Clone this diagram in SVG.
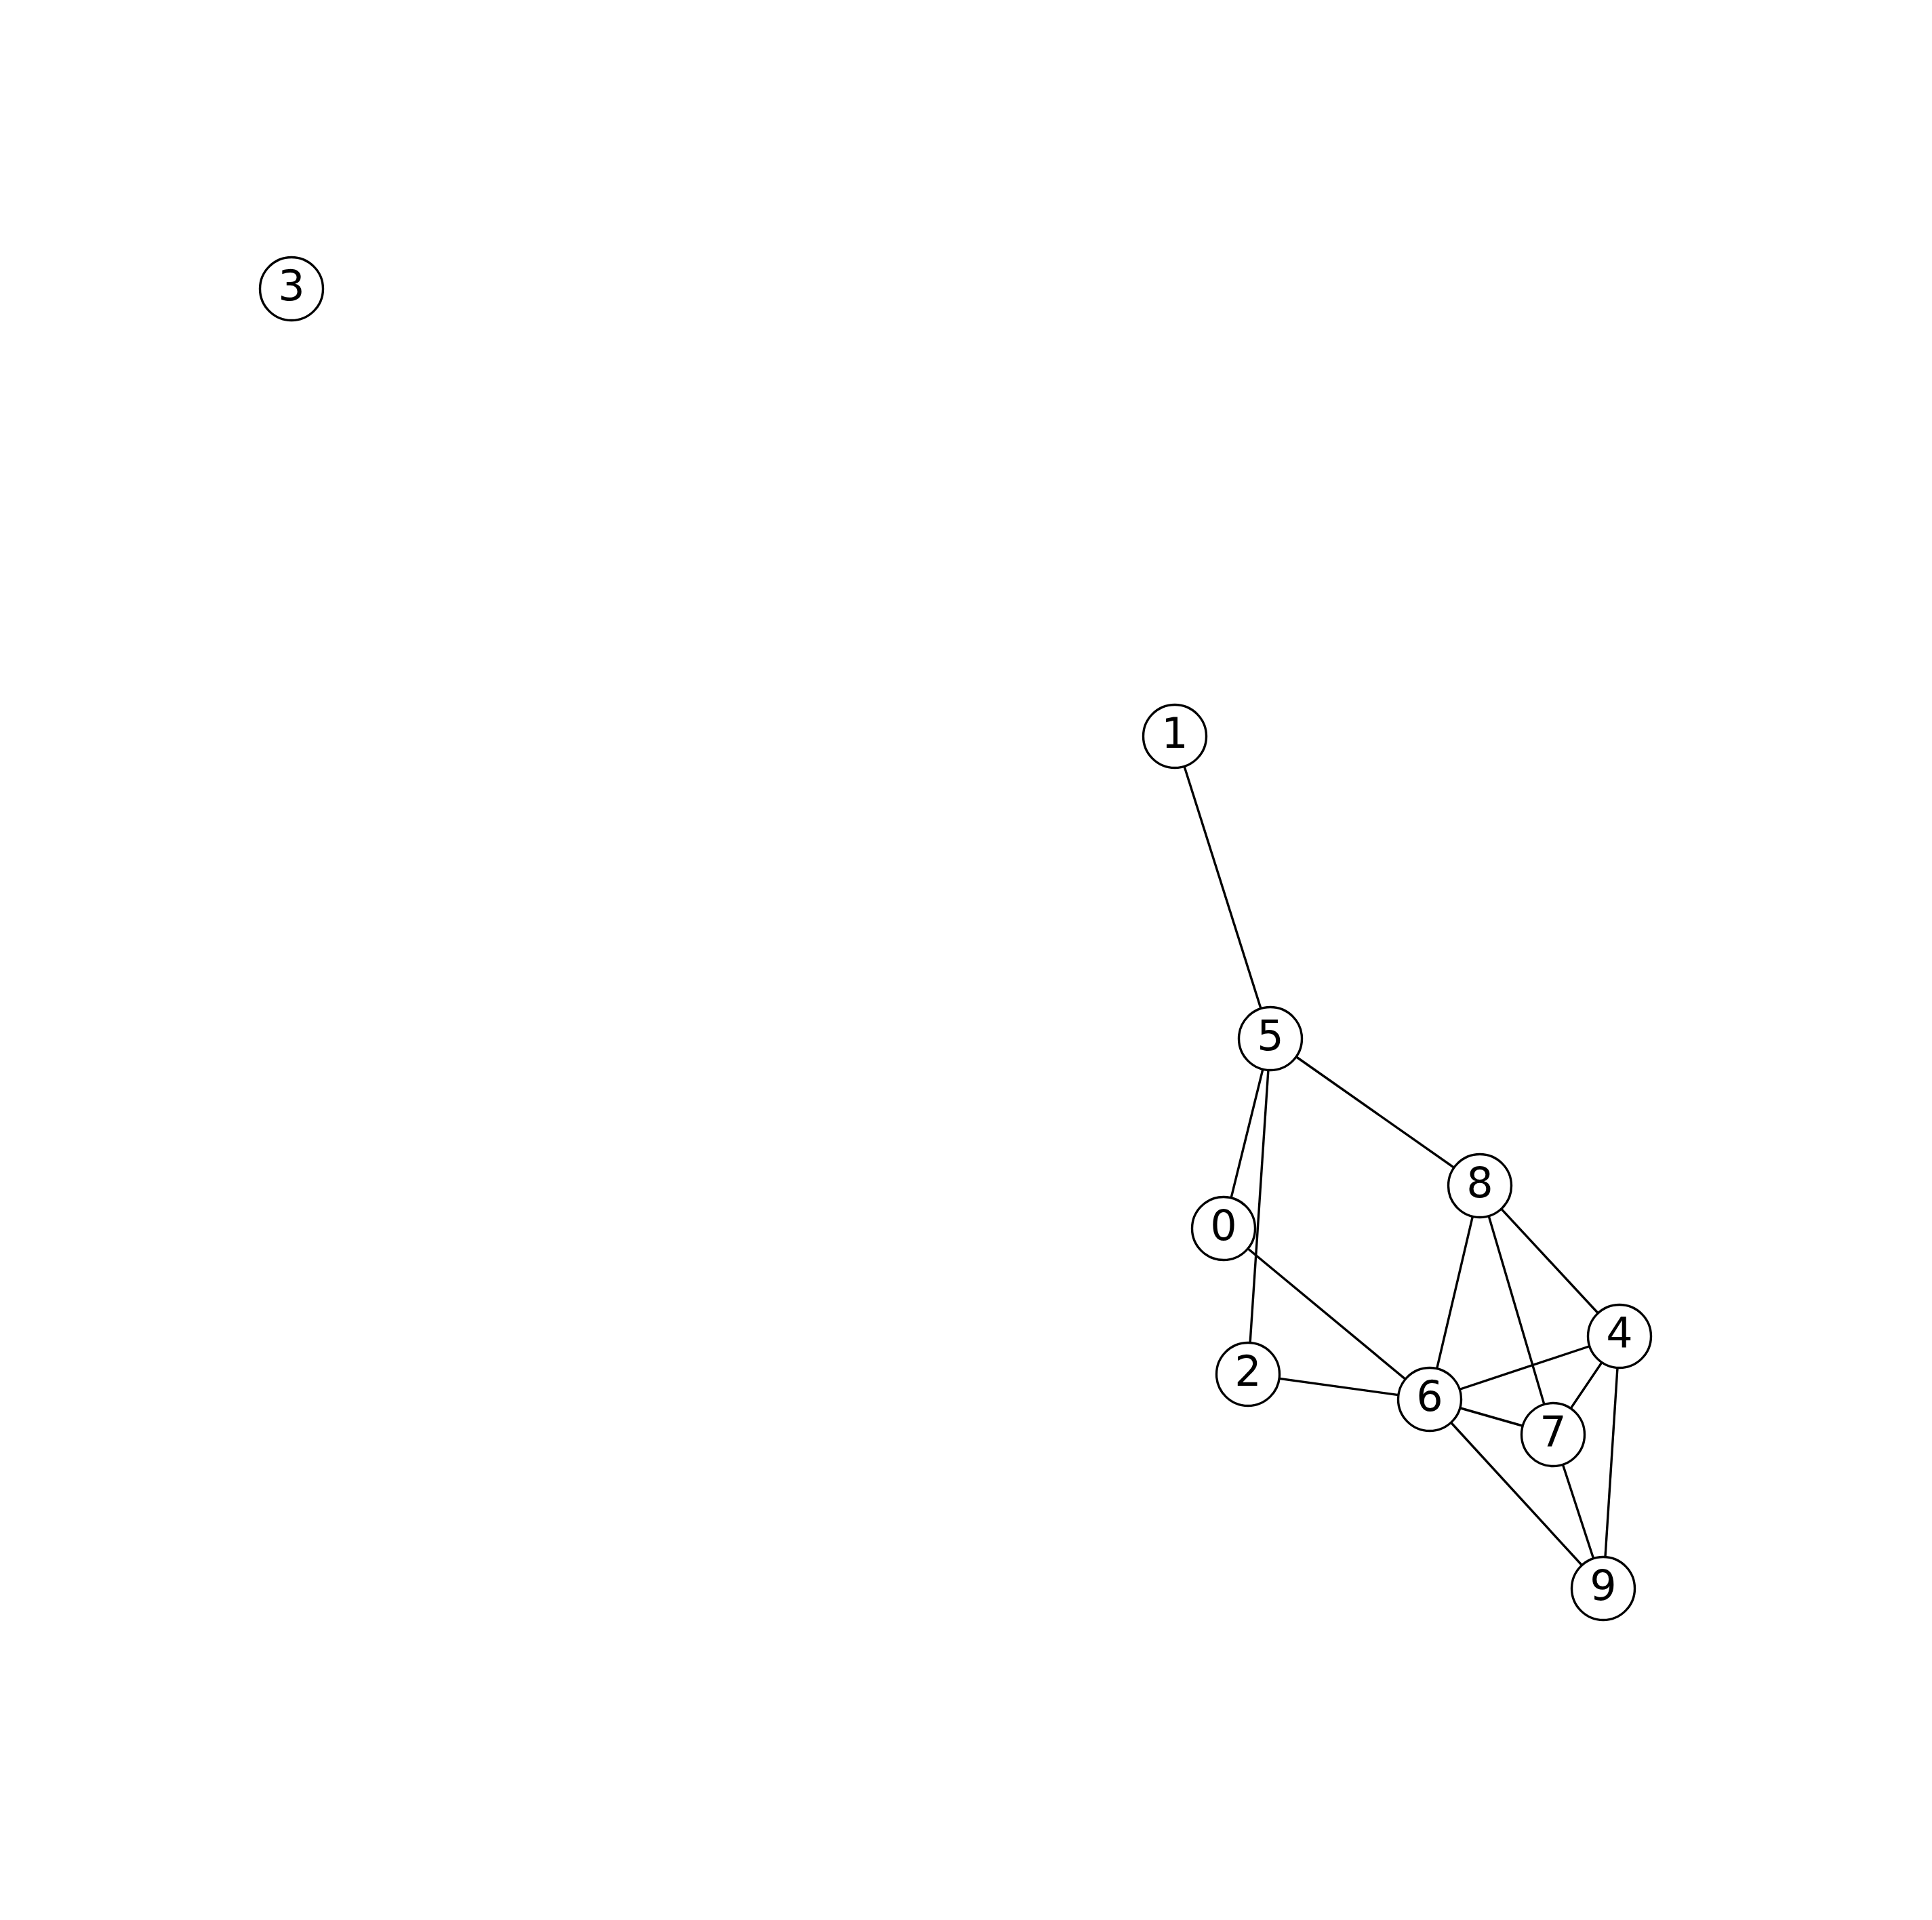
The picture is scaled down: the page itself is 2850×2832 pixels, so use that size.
<svg xmlns="http://www.w3.org/2000/svg" width="2850" height="2832" viewBox="0 0 2850 2832">
<style>
.e{stroke:#000;stroke-width:3.4;fill:none}
.n circle{fill:#fff;stroke:#000;stroke-width:3.4}
.n text{font-family:"DejaVu Sans",sans-serif;font-size:62px;text-anchor:middle;fill:#000}
</style>
<rect width="2850" height="2832" fill="#fff"/>
<g id="edges" class="e">
<line x1="1733" y1="1086" x2="1874" y2="1532"/>
<line x1="1874" y1="1532" x2="2183" y2="1749"/>
<line x1="1874" y1="1532" x2="1805" y2="1812"/>
<line x1="1874" y1="1532" x2="1841" y2="2027"/>
<line x1="1805" y1="1812" x2="2109" y2="2064"/>
<line x1="2183" y1="1749" x2="2109" y2="2064"/>
<line x1="2183" y1="1749" x2="2291" y2="2116"/>
<line x1="2183" y1="1749" x2="2389" y2="1971"/>
<line x1="2389" y1="1971" x2="2109" y2="2064"/>
<line x1="2389" y1="1971" x2="2291" y2="2116"/>
<line x1="2389" y1="1971" x2="2365" y2="2343"/>
<line x1="1841" y1="2027" x2="2109" y2="2064"/>
<line x1="2109" y1="2064" x2="2291" y2="2116"/>
<line x1="2109" y1="2064" x2="2365" y2="2343"/>
<line x1="2291" y1="2116" x2="2365" y2="2343"/>
</g>
<g id="node0" class="n"><circle cx="1805" cy="1812" r="46.5"/><text x="1805" y="1829">0</text></g>
<g id="node1" class="n"><circle cx="1733" cy="1086" r="46.5"/><text x="1733" y="1103">1</text></g>
<g id="node2" class="n"><circle cx="1841" cy="2027" r="46.5"/><text x="1841" y="2044">2</text></g>
<g id="node3" class="n"><circle cx="430" cy="426" r="46.5"/><text x="430" y="443">3</text></g>
<g id="node4" class="n"><circle cx="2389" cy="1971" r="46.5"/><text x="2389" y="1988">4</text></g>
<g id="node5" class="n"><circle cx="1874" cy="1532" r="46.5"/><text x="1874" y="1549">5</text></g>
<g id="node6" class="n"><circle cx="2109" cy="2064" r="46.5"/><text x="2109" y="2081">6</text></g>
<g id="node7" class="n"><circle cx="2291" cy="2116" r="46.5"/><text x="2291" y="2133">7</text></g>
<g id="node8" class="n"><circle cx="2183" cy="1749" r="46.5"/><text x="2183" y="1766">8</text></g>
<g id="node9" class="n"><circle cx="2365" cy="2343" r="46.5"/><text x="2365" y="2360">9</text></g>
</svg>
